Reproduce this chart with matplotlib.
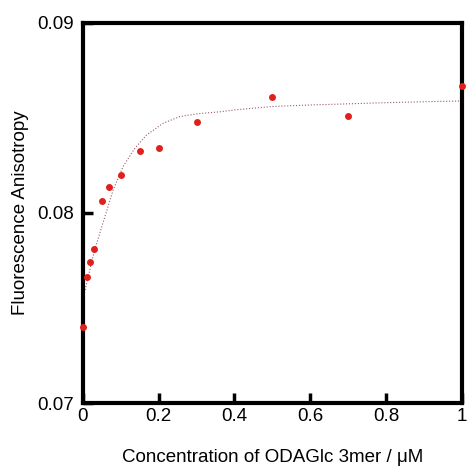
import matplotlib
matplotlib.use("Agg")
import matplotlib.pyplot as plt

plt.rcParams['font.family'] = ['Liberation Sans', 'DejaVu Sans']

conc = [0.0, 0.01, 0.02, 0.03, 0.05, 0.07, 0.1, 0.15, 0.2, 0.3, 0.5, 0.7, 1.0]
aniso = [0.0740, 0.07663, 0.07742, 0.07809, 0.08065, 0.08138, 0.08202,
         0.08325, 0.08344, 0.08481, 0.08611, 0.08509, 0.08670]

fit_x = [0.006, 0.031, 0.08, 0.106, 0.137, 0.168, 0.212, 0.256, 0.30,
         0.361, 0.4, 0.5, 0.6, 0.7, 0.8, 0.9, 1.0]
fit_y = [0.07595, 0.07805, 0.08121, 0.08244, 0.0834, 0.0841, 0.08472,
         0.08507, 0.08521, 0.08532, 0.08542, 0.0856, 0.08568, 0.08574,
         0.08580, 0.08585, 0.08589]

xticks = [0, 0.2, 0.4, 0.6, 0.8, 1]
xticklabels = ['0', '0.2', '0.4', '0.6', '0.8', '1']
yticks = [0.07, 0.08, 0.09]
yticklabels = ['0.07', '0.08', '0.09']

fig = plt.figure(figsize=(4.68, 4.66), dpi=100)
ax = fig.add_axes([0.177, 0.135, 0.810, 0.816])

ax.plot(fit_x, fit_y, color='#9a5a6e', linewidth=0.8, linestyle=':', zorder=2)
ax.plot(conc, aniso, 'o', color='#e0201c', markersize=5, markeredgewidth=0,
        clip_on=False, zorder=5)

ax.set_xlim(0, 1)
ax.set_ylim(0.07, 0.09)
ax.set_xticks(xticks)
ax.set_xticklabels(xticklabels)
ax.set_yticks(yticks)
ax.set_yticklabels(yticklabels)

for s in ax.spines.values():
    s.set_linewidth(3)
ax.tick_params(direction='in', length=7, width=2.5, labelsize=13.5)
ax.tick_params(axis='x', pad=3.5)
ax.tick_params(axis='y', pad=6.5)

ax.set_xlabel('Concentration of ODAGlc 3mer / μM', fontsize=13.5, labelpad=17)
ax.set_ylabel('Fluorescence Anisotropy', fontsize=13.5, labelpad=6)

fig.savefig('out.png', dpi=100)
